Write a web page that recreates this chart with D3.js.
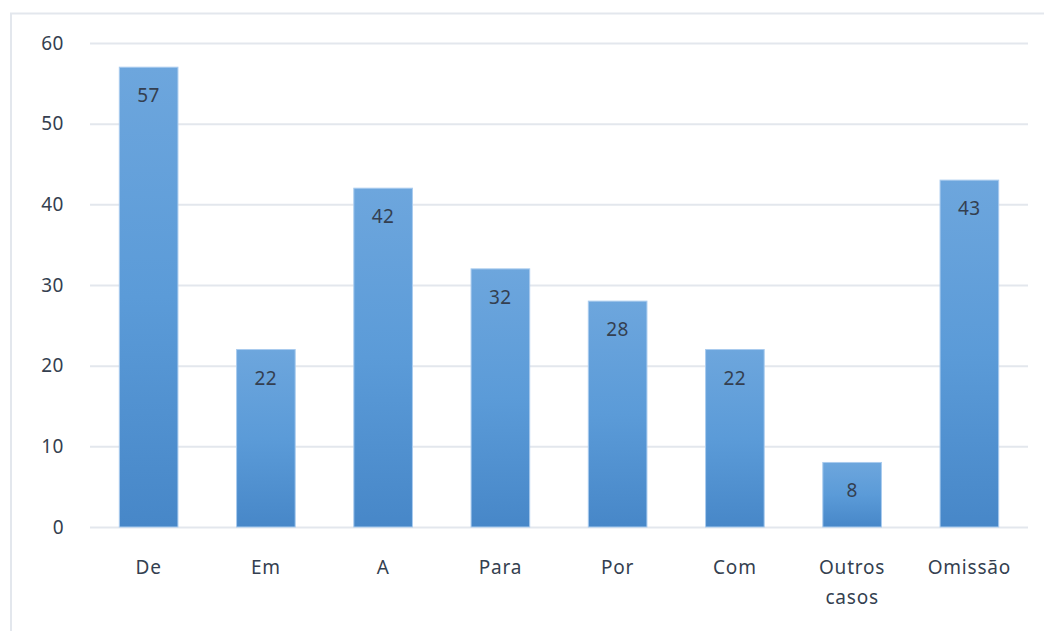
<!DOCTYPE html>
<html>
<head>
<meta charset="utf-8">
<script src="https://cdn.jsdelivr.net/npm/d3@7"></script>
<style>
  html, body { margin: 0; padding: 0; background: #ffffff; }
  svg { display: block; }
  text { font-family: "Noto Sans", "Open Sans", sans-serif; fill: #343f50; }
</style>
</head>
<body>
<svg id="chart" width="1044" height="631"></svg>
<script>
// Preposition usage counts
const categories = ["De", "Em", "A", "Para", "Por", "Com", "Outros casos", "Omissão"];
const values = [57, 22, 42, 32, 28, 22, 8, 43];
const yTicks = [0, 10, 20, 30, 40, 50, 60];

const svg = d3.select("#chart");
const W = 1044, H = 631;
const margin = { left: 90, right: 16, top: 43, bottom: 104 };
const plotW = W - margin.left - margin.right;
const plotH = H - margin.top - margin.bottom;

// Outer chart frame (top and left edges visible)
svg.append("path")
  .attr("d", `M11,${H} L11,13.5 L${W},13.5`)
  .attr("fill", "none")
  .attr("stroke", "#e3e7ed")
  .attr("stroke-width", 2);

const defs = svg.append("defs");
const grad = defs.append("linearGradient")
  .attr("id", "barGrad")
  .attr("x1", 0).attr("y1", 0).attr("x2", 0).attr("y2", 1);
grad.append("stop").attr("offset", "0%").attr("stop-color", "#6da6dd");
grad.append("stop").attr("offset", "50%").attr("stop-color", "#5b9bd8");
grad.append("stop").attr("offset", "100%").attr("stop-color", "#4787c8");

const g = svg.append("g").attr("transform", `translate(${margin.left},${margin.top})`);

const x = d3.scaleBand().domain(categories).range([0, plotW]).paddingInner(0.5).paddingOuter(0.25);
const y = d3.scaleLinear().domain([0, 60]).range([plotH, 0]);

// Horizontal gridlines
const yAxis = d3.axisLeft(y).tickValues(yTicks).tickSize(-plotW).tickPadding(26);
const yg = g.append("g").call(yAxis);
yg.select(".domain").remove();
yg.selectAll(".tick line").attr("stroke", "#e3e7ed").attr("stroke-width", 2);
yg.selectAll(".tick text")
  .attr("font-size", 19)
  .style("letter-spacing", "0.5px")
  .attr("fill", "#343f50");

// Bars
g.selectAll("rect.bar")
  .data(values)
  .join("rect")
  .attr("class", "bar")
  .attr("x", (d, i) => x(categories[i]))
  .attr("y", d => y(d))
  .attr("width", x.bandwidth())
  .attr("height", d => y(0) - y(d))
  .attr("fill", "url(#barGrad)")
  .attr("stroke", "#a9cbee")
  .attr("stroke-width", 1);

// Value labels inside bar tops
g.selectAll("text.val")
  .data(values)
  .join("text")
  .attr("class", "val")
  .attr("x", (d, i) => x(categories[i]) + x.bandwidth() / 2)
  .attr("y", d => y(d) + 35)
  .attr("text-anchor", "middle")
  .attr("font-size", 19)
  .style("letter-spacing", "0.5px")
  .text(d => d);

// Category labels (wrapped on spaces)
const xg = g.append("g").attr("transform", `translate(0,${plotH})`);
categories.forEach(c => {
  const t = xg.append("text")
    .attr("x", x(c) + x.bandwidth() / 2)
    .attr("y", 47)
    .attr("text-anchor", "middle")
    .attr("font-size", 19)
    .style("letter-spacing", "0.8px");
  c.split(" ").forEach((w, k) => {
    t.append("tspan")
      .attr("x", x(c) + x.bandwidth() / 2)
      .attr("dy", k === 0 ? 0 : 30)
      .text(w);
  });
});
</script>
</body>
</html>
